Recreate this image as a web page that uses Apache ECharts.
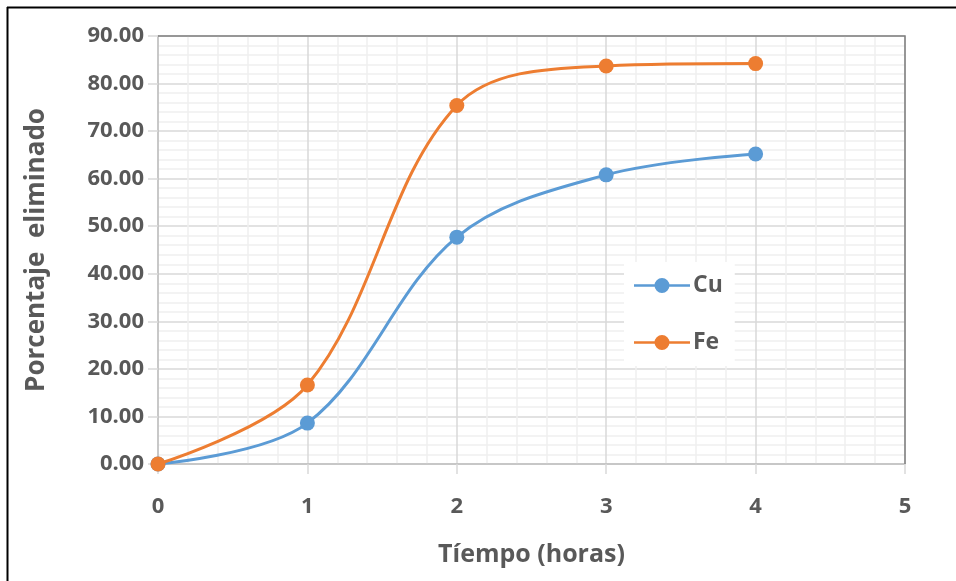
<!DOCTYPE html>
<html>
<head>
<meta charset="utf-8">
<script src="https://cdn.jsdelivr.net/npm/echarts@6/dist/echarts.min.js"></script>
<style>
  html, body { margin: 0; padding: 0; background: #fff; }
  #chart { width: 956px; height: 581px; }
</style>
</head>
<body>
<div id="chart"></div>
<script>
// Hours of treatment
const hours = [0, 1, 2, 3, 4];
// Percentage removed for each metal
const cuValues = [0, 8.6, 47.7, 60.8, 65.2];
const feValues = [0, 16.6, 75.4, 83.7, 84.2];
const seriesNames = ['Cu', 'Fe'];
const yTicks = { min: 0, max: 90, step: 10 };
const xTicks = { min: 0, max: 5, step: 1 };

const FONT = '"Open Sans", "Liberation Sans", sans-serif';
const TEXT = '#595959';

// Legend key: a short line with a dot in the middle (56 x 15 box), both drawn clockwise
const LEGEND_ICON = 'path://M0,6.2H56V8.8H0Z M20.5,7.5A7.5,7.5 0 1,1 35.5,7.5A7.5,7.5 0 1,1 20.5,7.5Z';

const chart = echarts.init(document.getElementById('chart'), null, { renderer: 'canvas' });

const pairs = vals => hours.map((h, i) => [h, vals[i]]);

chart.setOption({
  animation: false,
  backgroundColor: '#fff',
  grid: { left: 158, top: 36, right: 51, bottom: 117, containLabel: false },
  graphic: [
    { type: 'line', shape: { x1: 7.5, y1: 7, x2: 7.5, y2: 581 }, style: { stroke: '#000', lineWidth: 2 } },
    { type: 'line', shape: { x1: 7, y1: 7.5, x2: 956, y2: 7.5 }, style: { stroke: '#000', lineWidth: 2 } },
    // dark frame on the top and right of the plot area
    { type: 'polyline', shape: { points: [[158, 36], [905, 36], [905, 464]] }, style: { stroke: '#7f7f7f', lineWidth: 1.5, fill: null }, z: 3 }
  ],
  legend: {
    data: seriesNames.map(name => ({ name, icon: LEGEND_ICON })),
    orient: 'vertical',
    left: 624, top: 262,
    padding: [12, 12, 12, 10],
    backgroundColor: '#fff',
    itemWidth: 56, itemHeight: 15,
    itemGap: 34,
    symbolKeepAspect: true,
    textStyle: { fontFamily: FONT, fontSize: 23, fontWeight: 'bold', color: TEXT, padding: [0, 0, 0, -2] }
  },
  xAxis: {
    type: 'value',
    min: xTicks.min, max: xTicks.max, interval: xTicks.step,
    name: 'Tíempo (horas)',
    nameLocation: 'middle',
    nameGap: 78,
    nameTextStyle: { fontFamily: FONT, fontSize: 25, fontWeight: 'bold', color: TEXT },
    axisLine: { show: true, lineStyle: { color: '#bfbfbf', width: 1.5 } },
    axisTick: { show: true, length: 10, inside: false, lineStyle: { color: '#d9d9d9', width: 1.5 } },
    axisLabel: { fontFamily: FONT, fontSize: 22, fontWeight: 'bold', color: TEXT, margin: 32 },
    splitLine: { show: true, lineStyle: { color: '#d9d9d9', width: 1.5 } },
    minorTick: { show: false, splitNumber: 5 },
    minorSplitLine: { show: true, lineStyle: { color: '#f0f0f0', width: 1.5 } }
  },
  yAxis: {
    type: 'value',
    min: yTicks.min, max: yTicks.max, interval: yTicks.step,
    name: 'Porcentaje  eliminado',
    nameLocation: 'middle',
    nameGap: 108,
    nameTextStyle: { fontFamily: FONT, fontSize: 26, fontWeight: 'bold', color: TEXT },
    axisLine: { show: true, lineStyle: { color: '#bfbfbf', width: 1.5 } },
    axisTick: { show: true, length: 10, inside: false, lineStyle: { color: '#d9d9d9', width: 1.5 } },
    axisLabel: { fontFamily: FONT, fontSize: 22, fontWeight: 'bold', color: TEXT, margin: 14, formatter: v => v.toFixed(2) },
    splitLine: { show: true, lineStyle: { color: '#d9d9d9', width: 1.5 } },
    minorTick: { show: false, splitNumber: 5 },
    minorSplitLine: { show: true, lineStyle: { color: '#f0f0f0', width: 1.5 } }
  },
  series: [
    {
      name: seriesNames[0], type: 'line', data: pairs(cuValues),
      smooth: 0.35, symbol: 'circle', symbolSize: 15,
      itemStyle: { color: '#5b9bd5' }, lineStyle: { color: '#5b9bd5', width: 3 }, z: 4
    },
    {
      name: seriesNames[1], type: 'line', data: pairs(feValues),
      smooth: 0.35, symbol: 'circle', symbolSize: 15,
      itemStyle: { color: '#ed7d31' }, lineStyle: { color: '#ed7d31', width: 3 }, z: 5
    }
  ]
});
</script>
</body>
</html>
